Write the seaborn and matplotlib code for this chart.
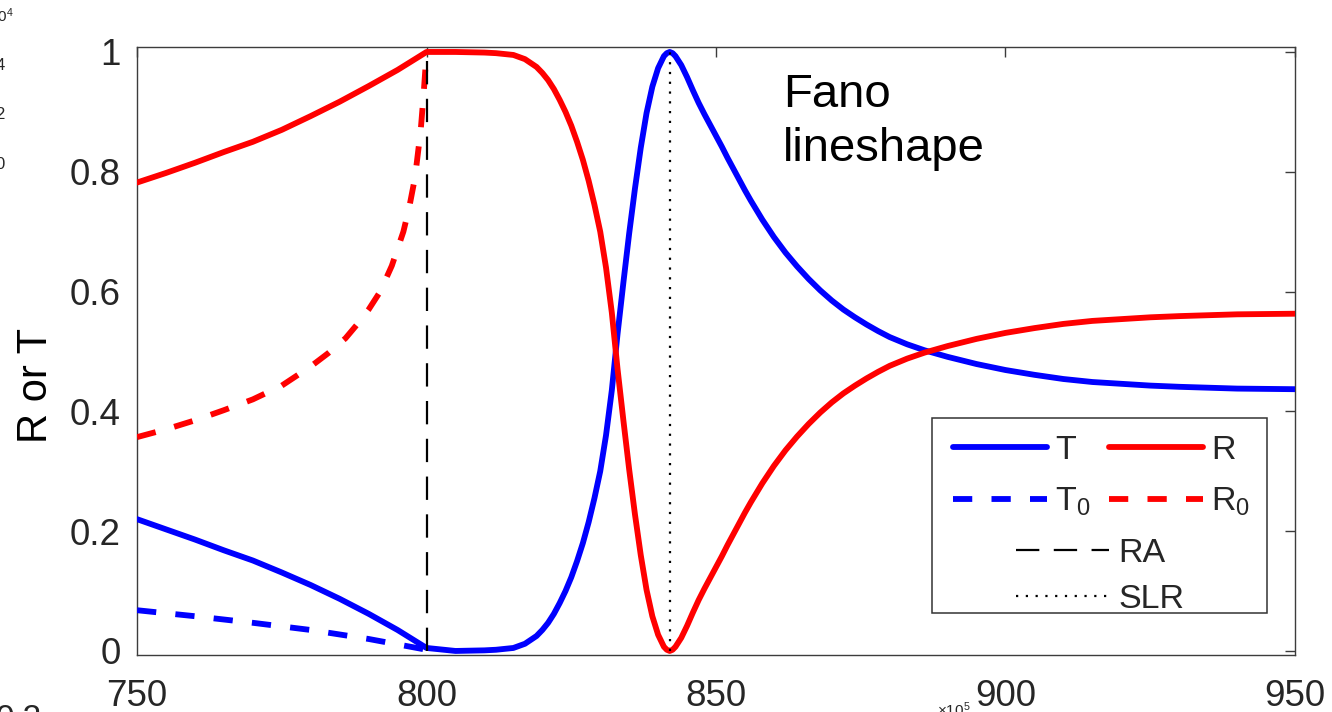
import numpy as np
import pandas as pd
import matplotlib
matplotlib.use("Agg")
import matplotlib.pyplot as plt
import seaborn as sns
from matplotlib.lines import Line2D
from matplotlib.patches import Rectangle

# =========================================================
# DATA
# =========================================================

# wavelength (nm), below the Rayleigh anomaly
wl_left = [750, 755, 760, 765, 770, 775, 780, 785, 790, 795, 800]
r_left = [0.782, 0.798, 0.815, 0.833, 0.850, 0.870, 0.893, 0.917, 0.943, 0.970, 1.000]
t_left = [0.220, 0.203, 0.186, 0.168, 0.151, 0.131, 0.110, 0.087, 0.062, 0.035, 0.005]

# wavelength (nm), above the Rayleigh anomaly
wl_right = [805, 810, 812, 814, 815, 817, 819, 820, 821, 822, 823, 824, 825,
            826, 827, 828, 829, 830, 831, 832, 833, 834, 835, 836, 837, 838,
            839, 840, 841, 841.5, 842, 842.5, 843, 844, 845, 846, 847, 848,
            849, 850, 851, 852, 853, 854, 855, 856, 858, 860, 862, 864, 866,
            868, 870, 872, 874, 876, 878, 880, 883, 886, 890, 895, 900, 905,
            910, 915, 920, 925, 930, 940, 950]
r_right = [1.000, 0.999, 0.998, 0.996, 0.995, 0.988, 0.975, 0.965, 0.953, 0.938,
           0.920, 0.900, 0.877, 0.850, 0.820, 0.785, 0.745, 0.700, 0.640, 0.565,
           0.470, 0.385, 0.303, 0.228, 0.160, 0.102, 0.058, 0.027, 0.007, 0.002,
           0.000, 0.002, 0.007, 0.022, 0.042, 0.064, 0.085, 0.104, 0.122, 0.140,
           0.158, 0.177, 0.195, 0.213, 0.231, 0.248, 0.280, 0.309, 0.335, 0.358,
           0.379, 0.398, 0.415, 0.430, 0.443, 0.455, 0.466, 0.476, 0.488, 0.498,
           0.509, 0.521, 0.531, 0.539, 0.546, 0.551, 0.554, 0.557, 0.559, 0.562,
           0.563]
t_right = [0.000, 0.001, 0.002, 0.004, 0.005, 0.012, 0.025, 0.035, 0.047, 0.062,
           0.080, 0.100, 0.123, 0.150, 0.180, 0.215, 0.255, 0.300, 0.360, 0.435,
           0.530, 0.615, 0.697, 0.772, 0.840, 0.898, 0.942, 0.973, 0.993, 0.998,
           1.000, 0.998, 0.993, 0.978, 0.958, 0.936, 0.915, 0.896, 0.878, 0.860,
           0.842, 0.823, 0.805, 0.787, 0.769, 0.752, 0.720, 0.691, 0.665, 0.642,
           0.621, 0.602, 0.585, 0.570, 0.557, 0.545, 0.534, 0.524, 0.512, 0.502,
           0.491, 0.479, 0.469, 0.461, 0.454, 0.449, 0.446, 0.443, 0.441, 0.438,
           0.437]

# non-resonant reference (dashed), only below 800 nm
wl_r0 = [750, 755, 760, 765, 770, 775, 780, 783, 786, 788, 790, 792, 794,
         796, 797, 798, 799, 799.5, 800]
r0 = [0.357, 0.370, 0.385, 0.402, 0.420, 0.443, 0.475, 0.497, 0.522, 0.545,
      0.570, 0.600, 0.643, 0.700, 0.740, 0.790, 0.870, 0.930, 1.000]
wl_t0 = [750, 760, 770, 780, 790, 800]
t0 = [0.068, 0.058, 0.047, 0.035, 0.020, 0.002]

# marker lines
ra_x = [800, 800]
ra_y = [0, 1]
slr_x = [842, 842]
slr_y = [0, 1]

x_ticks = [750, 800, 850, 900, 950]
y_ticks = [0, 0.2, 0.4, 0.6, 0.8, 1]
y_tick_labels = ["0", "0.2", "0.4", "0.6", "0.8", "1"]

df_rt = pd.DataFrame({
    "wl": wl_left + wl_right,
    "R": r_left + r_right,
    "T": t_left + t_right,
})

# =========================================================
# STYLE
# =========================================================

sns.set_theme(style="white")
plt.rcParams["font.family"] = ["Liberation Sans", "DejaVu Sans"]
plt.rcParams["mathtext.default"] = "regular"

text_col = "#262626"
axis_col = "#3c3c3c"
dash_rt = (0, (3.3, 3.3))
dash_ra = (0, (10.5, 6.5))
dot_slr = (0, (1, 3.4))

fig = plt.figure(figsize=(13.32, 7.12), dpi=100)
ax = fig.add_axes([0.1029, 0.0801, 0.8693, 0.8539])

# =========================================================
# CURVES
# =========================================================

sns.lineplot(x="wl", y="T", data=df_rt, ax=ax, color="#0000ff", lw=4.2,
             estimator=None, sort=False, zorder=3)
sns.lineplot(x="wl", y="R", data=df_rt, ax=ax, color="#ff0000", lw=4.2,
             estimator=None, sort=False, zorder=3)
sns.lineplot(x=wl_t0, y=t0, ax=ax, color="#0000ff", lw=4.2,
             linestyle=dash_rt, estimator=None, sort=False, zorder=3)
sns.lineplot(x=wl_r0, y=r0, ax=ax, color="#ff0000", lw=4.2,
             linestyle=dash_rt, estimator=None, sort=False, zorder=3)
sns.lineplot(x=ra_x, y=ra_y, ax=ax, color="black", lw=1.6,
             linestyle=dash_ra, estimator=None, sort=False, zorder=4)
sns.lineplot(x=slr_x, y=slr_y, ax=ax, color="black", lw=1.6,
             linestyle=dot_slr, estimator=None, sort=False, zorder=4)

# =========================================================
# AXES
# =========================================================

ax.set_xlim(750, 950)
ax.set_ylim(-0.0067, 1.0083)
ax.set_xticks(x_ticks)
ax.set_yticks(y_ticks)
ax.set_yticklabels(y_tick_labels)
ax.tick_params(direction="in", length=7, width=1, color=axis_col,
               top=True, right=True, labelsize=26.5, labelcolor=text_col)
ax.tick_params(axis="x", pad=17)
ax.tick_params(axis="y", pad=12)
for sp in ax.spines.values():
    sp.set_color(axis_col)
    sp.set_linewidth(1)

ax.set_xlabel("")
ax.set_ylabel("R or T", fontsize=30, color="black")
ax.yaxis.set_label_coords(-0.070, 0.444)

ax.text(0.558, 0.958, "Fano\nlineshape", transform=ax.transAxes,
        fontsize=34, color="black", ha="left", va="top", linespacing=1.3)

# =========================================================
# LEGEND (two column part + centred part in one box)
# =========================================================

ax.add_patch(Rectangle((0.6865, 0.069), 0.2893, 0.321, transform=ax.transAxes,
                       facecolor="white", edgecolor="#333333", lw=1.1,
                       zorder=6))

h_t = Line2D([], [], color="#0000ff", lw=4.2)
h_t0 = Line2D([], [], color="#0000ff", lw=4.2, linestyle=dash_rt)
h_r = Line2D([], [], color="#ff0000", lw=4.2)
h_r0 = Line2D([], [], color="#ff0000", lw=4.2, linestyle=dash_rt)
h_ra = Line2D([], [], color="black", lw=1.6, linestyle=dash_ra)
h_slr = Line2D([], [], color="black", lw=1.6, linestyle=dot_slr)

leg1 = ax.legend([h_t, h_t0, h_r, h_r0], ["T", "T$_0$", "R", "R$_0$"],
                 ncol=2, frameon=False, fontsize=24.5, handlelength=2.75,
                 handletextpad=0.25, columnspacing=0.54, labelspacing=0.58,
                 loc="upper left", bbox_to_anchor=(0.705, 0.362),
                 borderaxespad=0, borderpad=0)
for t in leg1.get_texts():
    t.set_color(text_col)
leg1.set_zorder(7)
ax.add_artist(leg1)

leg2 = ax.legend([h_ra, h_slr], ["RA", "SLR"], frameon=False, fontsize=24.5,
                 handlelength=2.75, handletextpad=0.25, labelspacing=0.42,
                 loc="upper left", bbox_to_anchor=(0.759, 0.192),
                 borderaxespad=0, borderpad=0)
for t in leg2.get_texts():
    t.set_color(text_col)
leg2.set_zorder(7)

# =========================================================
# CROPPED FRAGMENTS OF NEIGHBOURING PANELS
# =========================================================

fig.text(14 / 1332, 1 - 22 / 712, r"$\times10^4$", fontsize=11,
         color=text_col, ha="right", va="baseline")
for lab, ypx in [("4", 70), ("2", 119), ("0", 169)]:
    fig.text(5 / 1332, 1 - ypx / 712, lab, fontsize=12, color=text_col,
             ha="right", va="baseline")
fig.text(-4 / 1332, 1 - 704 / 712, "0.2", fontsize=24, color=text_col,
         ha="left", va="top")
fig.text(937 / 1332, 1 - 716 / 712, r"$\times10^5$", fontsize=11,
         color=text_col, ha="left", va="baseline")

fig.savefig("out.png", dpi=100)
